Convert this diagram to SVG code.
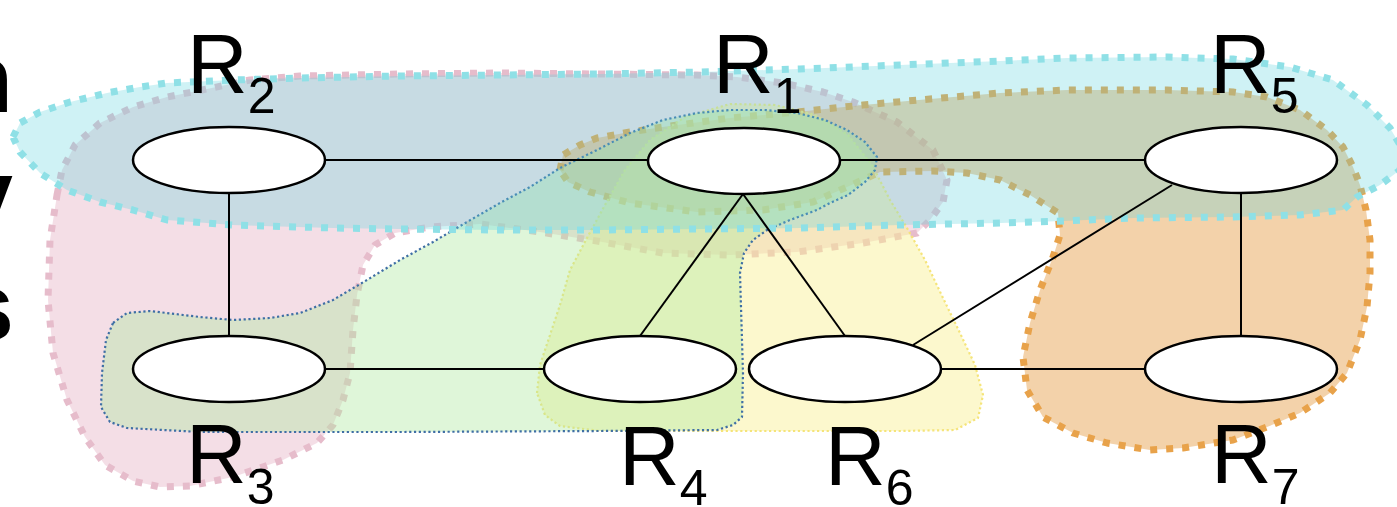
<svg xmlns="http://www.w3.org/2000/svg" width="1397" height="507" viewBox="0 0 1397 507">
<style>
.reg{stroke-linejoin:round;stroke-linecap:butt}
.thick{stroke-width:7;stroke-dasharray:7 9}
.thin{stroke-width:2.2;stroke-dasharray:2.2 2.6}
.pink{fill:#e0a0b8;fill-opacity:0.35;stroke:#e6bccb}
.orange{fill:#e8a555;fill-opacity:0.5;stroke:#e8a24a}
.yellow{fill:#f8f090;fill-opacity:0.45;stroke:#f5e47a}
.green{fill:#b0e8a0;fill-opacity:0.4;stroke:#3f6fa5}
.cyan{fill:#5fd3de;fill-opacity:0.3;stroke:#8fe0e6}
.edge{stroke:#000;stroke-width:2;fill:none}
.node{fill:#fff;stroke:#000;stroke-width:2.5}
.lbl{font-family:"Liberation Sans",Arial,sans-serif;font-size:84px;fill:#000}
.sub{font-size:50px}
.side{font-family:"Liberation Sans",Arial,sans-serif;font-size:96px;font-weight:bold;fill:#000}
</style>
<g id="regions">
<path id="region-pink" class="reg thick pink" d="M57,195 L62,170 L75,145 L100,123 L133,107 L167,97 L207,89 L250,80 L300,76 L400,74 L500,73 L600,74 L697,75 L737,77 L783,83 L823,92 L853,102 L897,122 L933,150 L947,180 L943,202 L930,220 L917,233 L863,243 L797,252 L730,255 L663,253 L597,241 L540,232 L480,224 L430,227 L395,233 L375,245 L363,265 L357,295 L353,330 L350,373 L343,400 L333,425 L317,443 L283,460 L233,477 L190,486 L160,487 L133,481 L105,465 L85,437 L67,400 L53,353 L48,300 L50,240 Z"/>
<path id="region-orange" class="reg thick orange" d="M560,170 L563,155 L580,145 L597,138 L630,132 L663,127 L730,118 L797,112 L863,105 L930,99 L1000,93 L1067,90 L1167,90 L1233,92 L1267,97 L1300,110 L1327,130 L1343,147 L1353,167 L1360,185 L1366,210 L1370,240 L1370,273 L1367,307 L1360,340 L1347,373 L1330,393 L1300,413 L1267,427 L1233,440 L1183,448 L1150,450 L1107,443 L1073,433 L1043,417 L1027,390 L1023,357 L1030,323 L1040,290 L1053,257 L1060,235 L1058,213 L1030,195 L1000,180 L967,173 L933,171 L880,172 L847,187 L813,202 L763,210 L697,212 L630,203 L590,192 L568,182 Z"/>
<path id="region-yellow" class="reg thin yellow" d="M537,393 L540,365 L550,335 L560,305 L570,270 L587,238 L605,205 L625,170 L650,140 L685,117 L730,104 L775,105 L815,115 L848,135 L872,165 L890,200 L907,228 L925,260 L943,298 L960,333 L975,365 L983,395 L978,418 L955,430 L900,431 L800,431 L700,431 L600,431 L560,426 L545,415 Z"/>
<path id="region-green" class="reg thin green" d="M113,323 L127,313 L150,311 L200,317 L233,320 L270,318 L300,313 L333,300 L367,280 L400,260 L433,242 L467,222 L500,203 L530,187 L560,168 L597,150 L630,133 L663,120 L697,113 L730,110 L765,110 L797,113 L825,120 L847,130 L865,142 L877,157 L875,170 L865,182 L848,195 L830,203 L817,210 L790,220 L767,230 L753,240 L744,253 L740,273 L741,307 L743,373 L742,417 L733,425 L717,430 L600,431 L400,432 L200,432 L127,428 L110,422 L101,407 L102,373 L106,340 Z"/>
<path id="region-cyan" class="reg thick cyan" d="M13,137 L20,123 L40,112 L70,102 L107,93 L140,87 L167,83 L233,80 L300,78 L400,76 L500,75 L600,74 L700,72 L800,69 L900,65 L1000,61 L1067,58 L1167,57 L1233,59 L1290,67 L1333,80 L1367,105 L1390,128 L1403,150 L1400,170 L1380,185 L1357,197 L1343,210 L1300,215 L1233,217 L1133,218 L1063,221 L1000,223 L900,225 L800,228 L700,229 L600,230 L500,230 L400,229 L333,228 L233,225 L167,220 L133,210 L100,202 L67,190 L40,173 L20,152 Z"/>
</g>
<g id="connectors">
<line class="edge" x1="325" y1="160" x2="648" y2="160"/>
<line class="edge" x1="840" y1="160" x2="1145" y2="160"/>
<line class="edge" x1="229" y1="193" x2="229" y2="336"/>
<line class="edge" x1="325" y1="369" x2="544" y2="369"/>
<line class="edge" x1="743" y1="194" x2="640" y2="336"/>
<line class="edge" x1="743" y1="194" x2="845" y2="336"/>
<line class="edge" x1="1172" y1="185" x2="913" y2="345"/>
<line class="edge" x1="1241" y1="193" x2="1241" y2="336"/>
<line class="edge" x1="941" y1="369" x2="1145" y2="369"/>
</g>
<g id="node-R1"><ellipse class="node" cx="744" cy="161" rx="96" ry="33"/><text class="lbl" x="713" y="93">R<tspan class="sub" dy="20">1</tspan></text></g>
<g id="node-R2"><ellipse class="node" cx="229" cy="160" rx="96" ry="33"/><text class="lbl" x="187" y="93">R<tspan class="sub" dy="20">2</tspan></text></g>
<g id="node-R3"><ellipse class="node" cx="229" cy="369" rx="96" ry="33"/><text class="lbl" x="186" y="483">R<tspan class="sub" dy="21">3</tspan></text></g>
<g id="node-R4"><ellipse class="node" cx="640" cy="369" rx="96" ry="33"/><text class="lbl" x="619" y="485">R<tspan class="sub" dy="20">4</tspan></text></g>
<g id="node-R5"><ellipse class="node" cx="1241" cy="160" rx="96" ry="33"/><text class="lbl" x="1210" y="93">R<tspan class="sub" dy="20">5</tspan></text></g>
<g id="node-R6"><ellipse class="node" cx="845" cy="369" rx="96" ry="33"/><text class="lbl" x="825" y="485">R<tspan class="sub" dy="20">6</tspan></text></g>
<g id="node-R7"><ellipse class="node" cx="1241" cy="369" rx="96" ry="33"/><text class="lbl" x="1211" y="483">R<tspan class="sub" dy="21">7</tspan></text></g>
<g id="side-text">
<text class="side" x="13" y="112" text-anchor="end">n</text>
<text class="side" x="13" y="227" text-anchor="end">y</text>
<text class="side" x="14" y="340" text-anchor="end">s</text>
</g>
</svg>
